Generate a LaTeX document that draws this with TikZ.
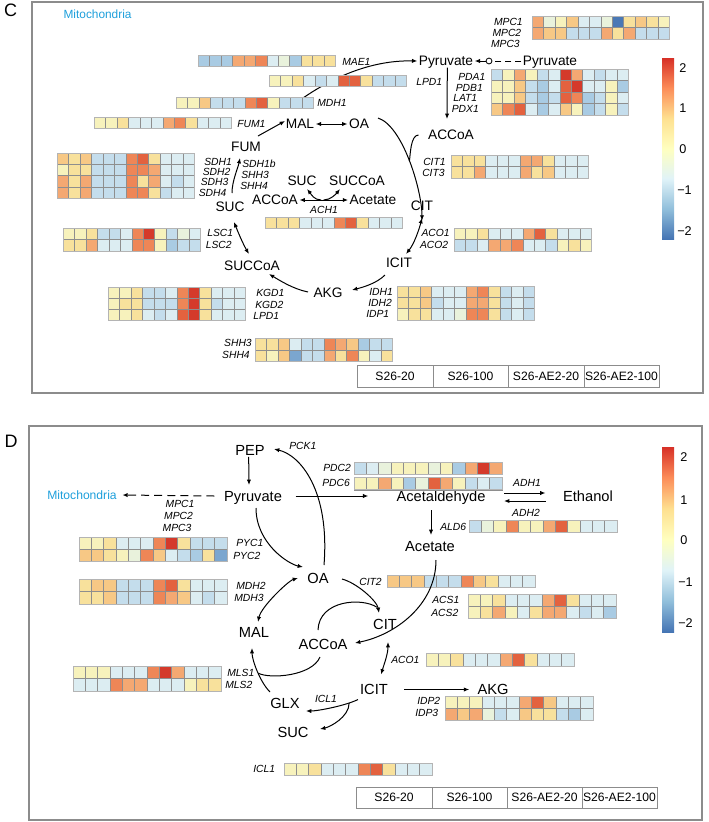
\documentclass[tikz,border=0pt]{standalone}
\usepackage{fontspec}
\setmainfont{Liberation Sans}
\usetikzlibrary{arrows.meta}

\definecolor{hdb}{HTML}{4A78B5}
\definecolor{hmb}{HTML}{7BA6CF}
\definecolor{hb}{HTML}{A9CBE3}
\definecolor{hlb}{HTML}{C4DDEC}
\definecolor{hvl}{HTML}{DCEDF2}
\definecolor{hgr}{HTML}{E9F2DC}
\definecolor{hyl}{HTML}{F7F2BC}
\definecolor{hy}{HTML}{F8E19C}
\definecolor{hyo}{HTML}{F7C885}
\definecolor{hol}{HTML}{F4A872}
\definecolor{ho}{HTML}{EE8657}
\definecolor{hro}{HTML}{E3623F}
\definecolor{hr}{HTML}{D43A2B}
\definecolor{gridc}{HTML}{8E8E8E}
\definecolor{borderc}{HTML}{B4B4B4}
\definecolor{framec}{HTML}{8C8C8C}
\definecolor{mitoblue}{HTML}{1E9FDB}
\definecolor{cbA}{HTML}{4575B4}
\definecolor{cbB}{HTML}{91BFDB}
\definecolor{cbC}{HTML}{E0F3F8}
\definecolor{cbD}{HTML}{FFFFBF}
\definecolor{cbE}{HTML}{FEE090}
\definecolor{cbF}{HTML}{FC8D59}
\definecolor{cbG}{HTML}{D73027}

\pgfdeclareverticalshading{rdylbu}{100bp}{color(0bp)=(cbA); color(25bp)=(cbA); color(33.33bp)=(cbB); color(41.67bp)=(cbC); color(50bp)=(cbD); color(58.33bp)=(cbE); color(66.67bp)=(cbF); color(75bp)=(cbG); color(100bp)=(cbG)}

% x, y, cell width, cell height, number of rows, rows
\newcommand{\hmap}[6]{%
  \foreach \hmrow [count=\hmr from 0] in {#6}{%
    \foreach \hmc [count=\hmi from 0] in \hmrow{%
      \filldraw[fill=\hmc, draw=gridc, line width=0.25pt] ({#1+\hmi*#3},{#2+\hmr*#4}) rectangle ++(#3,#4);
    }%
  }%
  \draw[draw=borderc, line width=0.6pt] (#1,#2) rectangle ++({12*#3},{#5*#4});
}

\begin{document}
\begin{tikzpicture}[x=0.75pt,y=-0.75pt,
  met/.style={font=\fontsize{10.3}{12}\selectfont, inner sep=1pt, text height=7.4pt, text depth=0pt},
  metD/.style={font=\fontsize{11}{13}\selectfont, inner sep=1pt, text height=7.9pt, text depth=0pt},
  gene/.style={font=\itshape\fontsize{7.75}{9}\selectfont, inner sep=0pt},
  mito/.style={text=mitoblue, inner sep=1pt},
  panel/.style={draw=framec, line width=0.8pt},
  plabel/.style={font=\fontsize{13.5}{15}\selectfont, inner sep=0pt},
  legtext/.style={font=\fontsize{9.1}{11}\selectfont, inner sep=0pt},
  cbtext/.style={font=\fontsize{9.5}{11}\selectfont, inner sep=0pt, anchor=west},
  legbox/.style={draw=framec, line width=0.5pt},
  ar/.style={-{Latex[length=4pt,width=3.2pt]}, line width=0.75pt},
  dar/.style={{Latex[length=4pt,width=3.2pt]}-{Latex[length=4pt,width=3.2pt]}, line width=0.75pt},
  dashline/.style={line width=0.75pt, dash pattern=on 4.5pt off 3pt}
]
\useasboundingbox (0,0) rectangle (708,822);

% ================= PANEL C =================
\draw[panel] (32,2) rectangle (703,393);
\node[plabel] (labC) at (10.5,10.5) {C};
\node[mito, font=\fontsize{8.9}{10}\selectfont, anchor=west] (cMito) at (62,14) {Mitochondria};

% metabolites
\node[met] (cPyrL) at (446,61) {Pyruvate};
\node[met] (cPyrR) at (550,61) {Pyruvate};
\node[met] (cACCoA1) at (451,135) {ACCoA};
\node[met] (cMAL) at (300,124) {MAL};
\node[met] (cOA) at (359,124) {OA};
\node[met] (cFUM) at (246,147) {FUM};
\node[met] (cSUC) at (230,207) {SUC};
\node[met] (cSUCi) at (302,181) {SUC};
\node[met] (cSUCCoAi) at (357,181) {SUCCoA};
\node[met] (cACCoAi) at (275,200) {ACCoA};
\node[met] (cAcet) at (373,200) {Acetate};
\node[met] (cCIT) at (422,206) {CIT};
\node[met] (cICIT) at (399,263) {ICIT};
\node[met] (cAKG) at (328,293) {AKG};
\node[met] (cSUCCoA) at (252,266) {SUCCoA};
\node[circle, draw, line width=0.6pt, inner sep=0pt, minimum size=4.4pt] (cCirc) at (489,61) {};

% MAL -> Pyruvate curve (behind heatmaps)
\draw[ar] ([shift={(-4,-21)}]cMAL.center) .. controls +(34,-25) and +(-47,-1) .. (cPyrL.west);

% heatmaps C
\hmap{198}{55}{11.45}{11.5}{1}{{hb,hb,hb,hol,hol,ho,hvl,hgr,hb,hy,hy,hy}}
\hmap{269}{75}{11.45}{11.5}{1}{{hyl,hyl,hy,hvl,hlb,hvl,hro,hro,hy,hlb,hlb,hlb}}
\hmap{176}{97}{11.45}{11.5}{1}{{hyl,hyl,hyo,hlb,hlb,hlb,ho,hro,hyl,hlb,hlb,hlb}}
\hmap{94}{117}{11.45}{11.5}{1}{{hyl,hyl,hy,hvl,hvl,hvl,hol,ho,hy,hvl,hvl,hvl}}
\hmap{57}{153}{11.45}{11.3}{4}{{hyo,hy,hyo,hlb,hlb,hlb,ho,hro,hy,hvl,hvl,hvl},{hyl,hy,hy,hlb,hlb,hlb,ho,ho,hol,hvl,hvl,hvl},{hol,hy,hol,hlb,hlb,hlb,ho,hy,hol,hvl,hlb,hvl},{hol,hy,hol,hlb,hlb,hlb,ho,ho,hy,hlb,hvl,hvl}}
\hmap{532}{16}{11.45}{11.5}{2}{{hol,hgr,hyl,hyo,hvl,hvl,hgr,hdb,hy,hyo,hy,hyl},{hol,hyo,hyo,hlb,hlb,hlb,hol,hy,hol,hlb,hlb,hlb}}
\hmap{491}{69}{11.45}{11.5}{4}{{hlb,hyl,hol,hyl,hlb,hvl,hr,hol,hvl,hlb,hvl,hvl},{hyl,hyl,hyo,hlb,hb,hvl,hro,hr,hvl,hvl,hyl,hb},{hyl,hyl,hyo,hlb,hb,hlb,hro,ho,hb,hlb,hyl,hvl},{hyo,ho,hro,hvl,hb,hvl,hyo,hyl,hb,hlb,hyl,hlb}}
\hmap{451}{155}{11.45}{11.5}{2}{{hy,hy,hy,hvl,hvl,hvl,hol,hol,hy,hvl,hvl,hvl},{hy,hy,hol,hvl,hvl,hvl,hol,hy,hyo,hvl,hvl,hvl}}
\hmap{265}{217}{11.45}{11.5}{1}{{hy,hy,hy,hvl,hvl,hvl,ho,hro,hy,hvl,hvl,hvl}}
\hmap{63}{228}{11.45}{11.5}{2}{{hyl,hyl,hy,hlb,hlb,hvl,ho,hr,hyl,hlb,hgr,hvl},{hy,hy,hol,hvl,hvl,hvl,ho,ho,hyl,hb,hlb,hlb}}
\hmap{454}{228}{11.45}{11.5}{2}{{hyl,hyl,hy,hvl,hvl,hvl,hol,hro,hy,hvl,hvl,hvl},{hlb,hlb,hvl,hol,hol,ho,hvl,hvl,hlb,hyl,hy,hyl}}
\hmap{108}{287}{11.45}{11.2}{3}{{hyl,hyl,hy,hlb,hlb,hvl,ho,hr,hy,hvl,hvl,hvl},{hyl,hy,hy,hlb,hlb,hlb,ho,hr,hy,hlb,hvl,hvl},{hyl,hyl,hy,hvl,hlb,hvl,hro,hr,hy,hvl,hvl,hvl}}
\hmap{397}{286}{11.45}{11.3}{3}{{hy,hy,hyo,hvl,hvl,hvl,hol,ho,hy,hlb,hvl,hlb},{hy,hy,hyo,hlb,hvl,hvl,hol,hol,hy,hlb,hvl,hlb},{hyl,hy,hy,hvl,hvl,hgr,ho,ho,hy,hlb,hvl,hlb}}
\hmap{255}{338}{11.45}{11.8}{2}{{hy,hy,hyo,hvl,hlb,hlb,ho,hol,hyo,hb,hlb,hlb},{hy,hyl,hyo,hmb,hlb,hlb,hol,hy,ho,hyl,hvl,hy}}

% gene labels C
\node[gene, anchor=east] (cgMPC1) at (523,22) {MPC1};
\node[gene, anchor=east] (cgMPC2) at (521.5,33) {MPC2};
\node[gene, anchor=east] (cgMPC3) at (520,44) {MPC3};
\node[gene, anchor=west] (cgMAE1) at (342,62) {MAE1};
\node[gene, anchor=west] (cgLPD1a) at (416,82) {LPD1};
\node[gene, anchor=west] (cgMDH1) at (317,103) {MDH1};
\node[gene, anchor=west] (cgFUM1) at (237,124) {FUM1};
\node[gene, anchor=west] (cgPDA1) at (458,77) {PDA1};
\node[gene, anchor=west] (cgPDB1) at (455.5,87.5) {PDB1};
\node[gene, anchor=west] (cgLAT1) at (453,98) {LAT1};
\node[gene, anchor=west] (cgPDX1) at (451.5,109) {PDX1};
\node[gene, anchor=west] (cgCIT1) at (423,162) {CIT1};
\node[gene, anchor=west] (cgCIT3) at (422,173) {CIT3};
\node[gene, anchor=west] (cgSDH1) at (204,161.5) {SDH1};
\node[gene, anchor=west] (cgSDH2) at (202.5,172) {SDH2};
\node[gene, anchor=west] (cgSDH3) at (200.5,182) {SDH3};
\node[gene, anchor=west] (cgSDH4) at (198.5,192.5) {SDH4};
\node[gene, anchor=west] (cgSDH1b) at (242,164) {SDH1b};
\node[gene, anchor=west] (cgSHH3a) at (241,175) {SHH3};
\node[gene, anchor=west] (cgSHH4a) at (240,186) {SHH4};
\node[gene] (cgACH1) at (324,210) {ACH1};
\node[gene, anchor=west] (cgLSC1) at (207,233) {LSC1};
\node[gene, anchor=west] (cgLSC2) at (205.5,245) {LSC2};
\node[gene, anchor=east] (cgACO1) at (450,233) {ACO1};
\node[gene, anchor=east] (cgACO2) at (448.5,245) {ACO2};
\node[gene, anchor=west] (cgKGD1) at (256,293) {KGD1};
\node[gene, anchor=west] (cgKGD2) at (255,305) {KGD2};
\node[gene, anchor=west] (cgLPD1b) at (253,316) {LPD1};
\node[gene, anchor=west] (cgIDH1) at (369,292) {IDH1};
\node[gene, anchor=west] (cgIDH2) at (368,303) {IDH2};
\node[gene, anchor=west] (cgIDP1) at (366,314) {IDP1};
\node[gene, anchor=east] (cgSHH3b) at (252,343) {SHH3};
\node[gene, anchor=east] (cgSHH4b) at (250,355) {SHH4};

% connectors C
\draw[dar] (cMAL.east) -- (cOA.west);
\draw[ar] ([shift={(12,-11)}]cFUM.center) -- ([shift={(-15,-3)}]cMAL.center);
\draw[ar] ([xshift=1]cPyrL.south) -- ([shift={(-4,-16)}]cACCoA1.center);
\draw[dashline] (cPyrR.west) -- (cCirc.east);
\draw[ar] (cCirc.west) -- (cPyrL.east);
\draw[ar] ([shift={(19,-6)}]cOA.center) .. controls +(25,8) and +(0,-30) .. ([yshift=-11]cCIT.center) coordinate[pos=0.5] (cJoin);
\draw[line width=0.75pt] ([xshift=-6]cACCoA1.west) .. controls +(-8,0) and +(1,-6) .. (cJoin);
\draw[dar] ([shift={(0,12)}]cCIT.center) .. controls +(-3,12) and +(8,-10) .. ([shift={(7,-9)}]cICIT.center);
\draw[ar] ([shift={(-14,12)}]cICIT.center) .. controls +(-8,8) and +(12,-3) .. ([shift={(24,-3)}]cAKG.center);
\draw[ar] ([shift={(-20,-1)}]cAKG.center) .. controls +(-15,-3) and +(10,6) .. ([shift={(17,8)}]cSUCCoA.center);
\draw[dar] ([shift={(4,15)}]cSUC.center) .. controls +(4,10) and +(-6,-10) .. ([shift={(-3,-12)}]cSUCCoA.center);
\draw[ar] ([shift={(2,-14)}]cSUC.center) .. controls +(0,-12) and +(-2,10) .. ([shift={(-6,11)}]cFUM.center);
\draw[dar] (cACCoAi.east) -- (cAcet.west) coordinate[pos=0.47] (cMid);
\draw[ar] ([xshift=-1]cMid) .. controls +(-7,0) and +(4,5) .. ([shift={(5,8)}]cSUCi.center);
\draw[ar] ([xshift=1]cMid) .. controls +(7,0) and +(-4,5) .. ([shift={(-17,8)}]cSUCCoAi.center);

% colour bar C
\shade[shading=rdylbu] (662,58) rectangle (674,239);
\node[cbtext] (cb2) at (679,68) {2};
\node[cbtext] (cb1) at (679,108.5) {1};
\node[cbtext] (cb0) at (679,149) {0};
\node[cbtext] (cbm1) at (677,190) {−1};
\node[cbtext] (cbm2) at (677,231) {−2};

% legend C
\draw[legbox] (357,365) rectangle (659,387);
\draw[legbox] (433,365) -- (433,387) (508,365) -- (508,387) (584,365) -- (584,387);
\node[legtext] (cl1) at (395,376) {S26-20};
\node[legtext] (cl2) at (470.5,376) {S26-100};
\node[legtext] (cl3) at (546,376) {S26-AE2-20};
\node[legtext] (cl4) at (621.5,376) {S26-AE2-100};

% ================= PANEL D =================
\draw[panel] (29,426) rectangle (702,820);
\node[plabel] (labD) at (11,441) {D};

\node[metD] (dPEP) at (250,450) {PEP};
\node[metD] (dPyr) at (253,496) {Pyruvate};
\node[mito, font=\fontsize{9.1}{11}\selectfont] (dMito) at (82,495) {Mitochondria};
\node[metD] (dAcald) at (441,496) {Acetaldehyde};
\node[metD] (dEth) at (588,496) {Ethanol};
\node[metD] (dAcet) at (430,546) {Acetate};
\node[metD] (dOA) at (318,578) {OA};
\node[metD] (dMAL) at (254,632) {MAL};
\node[metD] (dACCoA) at (323,644) {ACCoA};
\node[metD] (dCIT) at (385,624) {CIT};
\node[metD] (dICIT) at (374,689.5) {ICIT};
\node[metD] (dAKG) at (493,689.5) {AKG};
\node[metD] (dGLX) at (285,703) {GLX};
\node[metD] (dSUC) at (293,732) {SUC};

% heatmaps D
\hmap{354}{462}{12.33}{12.3}{1}{{hlb,hvl,hgr,hyl,hyl,hyl,hgr,hyl,hb,hol,hr,hol}}
\hmap{354}{477.5}{12.33}{12.3}{1}{{hyl,hyl,hol,hyl,hb,hgr,hro,hol,hyl,hlb,hvl,hlb}}
\hmap{469}{520}{12.33}{12.5}{1}{{hlb,hgr,hyl,ho,hyl,hyl,hol,hro,hyl,hvl,hvl,hvl}}
\hmap{79}{537}{12.33}{12}{2}{{hyl,hyl,hy,hvl,hvl,hvl,ho,hr,hy,hlb,hlb,hlb},{hyo,hyo,hy,hyl,hgr,ho,hyo,hvl,hlb,hb,hy,hmb}}
\hmap{387}{575}{12.33}{12.5}{1}{{hyo,hyo,hyo,hlb,hlb,hlb,ho,hyo,hy,hvl,hvl,hvl}}
\hmap{79}{579}{12.33}{12.5}{2}{{hy,hyo,hyo,hlb,hlb,hlb,ho,hro,hy,hvl,hvl,hvl},{hy,hy,hyo,hlb,hlb,hlb,ho,hol,hyo,hvl,hlb,hvl}}
\hmap{468}{594}{12.33}{12}{2}{{hyl,hyl,hy,hvl,hvl,hvl,hol,hro,hy,hvl,hvl,hvl},{hyl,hy,hol,hyl,hvl,hy,hol,hol,hvl,hlb,hvl,hb}}
\hmap{426}{653}{12.33}{13}{1}{{hyl,hyl,hy,hvl,hvl,hvl,hol,hro,hy,hvl,hvl,hvl}}
\hmap{73}{666}{12.33}{12.5}{2}{{hyl,hyl,hyl,hvl,hvl,hvl,ho,hr,hol,hvl,hvl,hvl},{hvl,hvl,hvl,ho,hol,hol,hvl,hvl,hvl,hyl,hy,hy}}
\hmap{445}{696}{12.33}{12}{2}{{hyl,hyl,hyl,hvl,hvl,hvl,hol,hro,hyo,hvl,hvl,hvl},{hol,hyo,hol,hgr,hlb,hvl,hyo,hy,hy,hlb,hb,hvl}}
\hmap{284}{763}{12.33}{12.3}{1}{{hyl,hyl,hy,hvl,hvl,hvl,ho,hro,hy,hvl,hvl,hvl}}

% gene labels D
\node[gene, anchor=west] (dgPCK1) at (289,446) {PCK1};
\node[gene, anchor=west] (dgPDC2) at (323,468) {PDC2};
\node[gene, anchor=west] (dgPDC6) at (322,483) {PDC6};
\node[gene] (dgADH1) at (527,483) {ADH1};
\node[gene] (dgADH2) at (526,513) {ADH2};
\node[gene] (dgMPC1) at (180,504) {MPC1};
\node[gene] (dgMPC2) at (178.5,516) {MPC2};
\node[gene] (dgMPC3) at (177,528) {MPC3};
\node[gene, anchor=west] (dgALD6) at (440,527) {ALD6};
\node[gene, anchor=west] (dgPYC1) at (236,543) {PYC1};
\node[gene, anchor=west] (dgPYC2) at (233,556) {PYC2};
\node[gene, anchor=west] (dgMDH2) at (236,586) {MDH2};
\node[gene, anchor=west] (dgMDH3) at (234,598) {MDH3};
\node[gene] (dgCIT2) at (370.5,582) {CIT2};
\node[gene, anchor=west] (dgACS1) at (432,600) {ACS1};
\node[gene, anchor=west] (dgACS2) at (431,613) {ACS2};
\node[gene, anchor=west] (dgACO1) at (391,660) {ACO1};
\node[gene, anchor=west] (dgMLS1) at (227,673) {MLS1};
\node[gene, anchor=west] (dgMLS2) at (225,685) {MLS2};
\node[gene] (dgICL1a) at (326,699) {ICL1};
\node[gene, anchor=west] (dgIDP2) at (417,701) {IDP2};
\node[gene, anchor=west] (dgIDP3) at (415,713) {IDP3};
\node[gene, anchor=west] (dgICL1b) at (253,769) {ICL1};

% connectors D
\draw[ar] ([xshift=-1]dPEP.south) -- ([shift={(-4,-11)}]dPyr.center);
\draw[ar, dash pattern=on 6pt off 3.8pt] ([xshift=-6]dPyr.west) -- ([xshift=3]dMito.east);
\draw[ar] ([xshift=9]dPyr.east) -- ([xshift=-20]dAcald.west);
\draw[ar] ([shift={(17,-3)}]dAcald.east) -- ([shift={(-16,-3)}]dEth.west);
\draw[ar] ([shift={(-16,5)}]dEth.west) -- ([shift={(17,5)}]dAcald.east);
\draw[ar] ([shift={(-10,14)}]dAcald.center) -- ([shift={(1,-11)}]dAcet.center);
\draw[ar] ([shift={(6,14)}]dAcet.center) .. controls +(0,45) and +(40,-8) .. ([shift={(32,-1)}]dACCoA.center);
\draw[ar] ([shift={(24,1)}]dOA.center) .. controls +(15,4) and +(-2,-12) .. ([shift={(-6,-11)}]dCIT.center) coordinate[pos=0.85] (dCjoin);
\draw[line width=0.75pt] ([shift={(-5,-14)}]dACCoA.center) .. controls +(1,-30) and +(-15,-10) .. (dCjoin);
\draw[ar] ([shift={(3,12)}]dPyr.center) .. controls +(0,35) and +(-15,-3) .. ([shift={(-15,-11)}]dOA.center);
\draw[ar] ([shift={(6,-13)}]dOA.center) .. controls +(6,-75) and +(26,6) .. ([shift={(24,-1)}]dPEP.center);
\draw[dar] ([shift={(4,-10)}]dMAL.center) .. controls +(3,-15) and +(-10,3) .. ([shift={(-20,0)}]dOA.center);
\draw[ar] ([shift={(-15,-11)}]dGLX.center) .. controls +(-10,-10) and +(0,12) .. ([shift={(-2,16)}]dMAL.center) coordinate[pos=0.45] (dJoin);
\draw[line width=0.75pt] ([shift={(-3,13)}]dACCoA.center) .. controls +(-8,19) and +(12,6) .. (dJoin);
\draw[dar] ([shift={(3,18)}]dCIT.center) .. controls +(0,12) and +(3,-10) .. ([shift={(7,-15)}]dICIT.center);
\draw[ar] ([xshift=11]dICIT.east) -- ([xshift=-5]dAKG.west);
\draw[ar] ([shift={(-16,10)}]dICIT.center) .. controls +(-12,6) and +(12,0) .. ([shift={(21,8)}]dGLX.center) coordinate[pos=0.2] (dBr);
\draw[ar] (dBr) .. controls +(0,14) and +(10,-2) .. ([shift={(27,-3)}]dSUC.center);

% colour bar D
\shade[shading=rdylbu] (662,447) rectangle (674,632);
\node[cbtext] (db2) at (680,457) {2};
\node[cbtext] (db1) at (680,500) {1};
\node[cbtext] (db0) at (680,540) {0};
\node[cbtext] (dbm1) at (678,582) {−1};
\node[cbtext] (dbm2) at (678,623) {−2};

% legend D
\draw[legbox] (356,787) rectangle (657,808);
\draw[legbox] (432,787) -- (432,808) (507,787) -- (507,808) (582,787) -- (582,808);
\node[legtext] (dl1) at (394,797.5) {S26-20};
\node[legtext] (dl2) at (469.5,797.5) {S26-100};
\node[legtext] (dl3) at (544.5,797.5) {S26-AE2-20};
\node[legtext] (dl4) at (619.5,797.5) {S26-AE2-100};
\end{tikzpicture}
\end{document}
